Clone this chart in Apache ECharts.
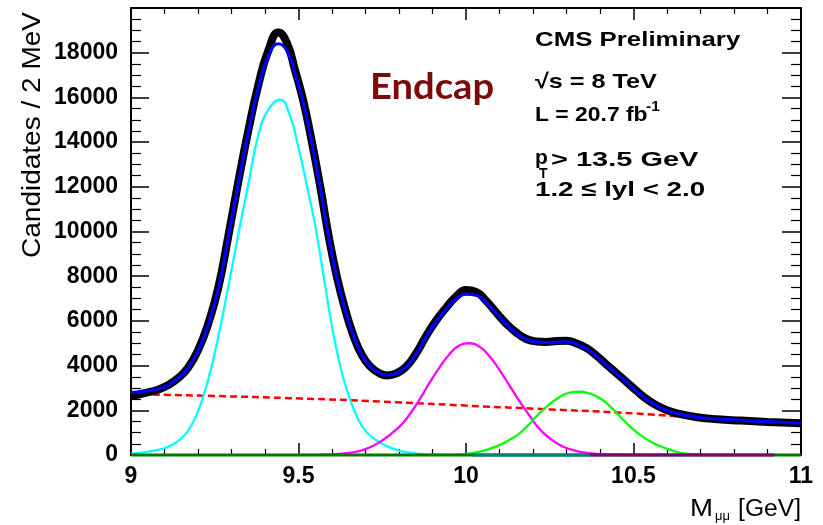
<!DOCTYPE html>
<html>
<head>
<meta charset="utf-8">
<script src="https://cdn.jsdelivr.net/npm/echarts@6/dist/echarts.min.js"></script>
<style>
html,body{margin:0;padding:0;background:#fff;}
#chart{width:823px;height:525px;}
</style>
</head>
<body>
<div id="chart"></div>
<script>
// ---- values (mass in GeV, candidates / 2 MeV) ----
const dataPoints = [[9.00,2620],[9.04,2770],[9.08,2920],[9.11,3120],[9.14,3430],[9.17,3900],[9.20,4680],[9.23,5850],[9.26,7450],[9.29,9750],[9.32,12200],[9.35,14500],[9.38,16550],[9.41,18100],[9.44,18900],[9.465,18450],[9.49,17200],[9.515,15800],[9.54,14000],[9.565,12000],[9.59,9800],[9.615,7950],[9.64,6480],[9.665,5300],[9.69,4450],[9.715,3950],[9.74,3670],[9.765,3560],[9.79,3640],[9.82,3930],[9.85,4520],[9.88,5300],[9.91,6000],[9.94,6580],[9.97,7080],[10.0,7380],[10.03,7300],[10.06,6900],[10.09,6380],[10.12,5880],[10.15,5480],[10.18,5190],[10.21,5080],[10.24,5060],[10.27,5100],[10.30,5110],[10.33,4990],[10.36,4780],[10.39,4440],[10.42,4040],[10.45,3650],[10.48,3260],[10.51,2860],[10.54,2490],[10.57,2210],[10.60,2000],[10.64,1830],[10.69,1690],[10.75,1600],[10.82,1540],[10.9,1480],[11.0,1420]];
const totalFit = [[9.00,2790],[9.04,2850],[9.08,2950],[9.11,3120],[9.14,3420],[9.17,3880],[9.20,4650],[9.23,5800],[9.26,7400],[9.29,9700],[9.32,12100],[9.35,14400],[9.38,16400],[9.41,17850],[9.44,18400],[9.465,18100],[9.49,17050],[9.515,15700],[9.54,13950],[9.565,11950],[9.59,9750],[9.615,7900],[9.64,6450],[9.665,5300],[9.69,4450],[9.715,3950],[9.74,3680],[9.765,3580],[9.79,3650],[9.82,3920],[9.85,4500],[9.88,5250],[9.91,5950],[9.94,6500],[9.97,6980],[10.0,7200],[10.03,7150],[10.06,6830],[10.09,6350],[10.12,5850],[10.15,5450],[10.18,5170],[10.21,5060],[10.24,5030],[10.27,5050],[10.30,5060],[10.33,4960],[10.36,4750],[10.39,4420],[10.42,4020],[10.45,3630],[10.48,3250],[10.51,2850],[10.54,2480],[10.57,2200],[10.60,1990],[10.64,1820],[10.69,1690],[10.75,1610],[10.82,1550],[10.9,1490],[11.0,1420]];
const ups1S = [[9.0,60],[9.04,120],[9.08,224],[9.11,370],[9.14,620],[9.17,1080],[9.20,1950],[9.23,3350],[9.26,5250],[9.29,7500],[9.32,9850],[9.35,12100],[9.38,14300],[9.41,15450],[9.445,15900],[9.475,15150],[9.50,13750],[9.525,12050],[9.55,10250],[9.575,8000],[9.60,5750],[9.625,3950],[9.65,2650],[9.675,1700],[9.70,1080],[9.73,680],[9.76,420],[9.80,200],[9.85,70],[9.9,15],[10.0,0]];
const ups2S = [[9.5,0],[9.6,30],[9.65,90],[9.70,260],[9.75,650],[9.80,1250],[9.83,1780],[9.86,2450],[9.89,3200],[9.92,3900],[9.95,4500],[9.98,4900],[10.01,5000],[10.04,4850],[10.07,4420],[10.10,3800],[10.13,3100],[10.16,2400],[10.19,1750],[10.22,1150],[10.25,750],[10.28,450],[10.31,260],[10.34,140],[10.38,60],[10.45,15],[10.6,0]];
const ups3S = [[9.9,0],[9.97,15],[10.0,45],[10.05,180],[10.10,450],[10.13,680],[10.16,970],[10.19,1400],[10.22,1880],[10.25,2280],[10.28,2600],[10.31,2790],[10.34,2830],[10.37,2740],[10.40,2540],[10.43,2180],[10.46,1720],[10.49,1270],[10.52,900],[10.55,600],[10.58,390],[10.61,230],[10.64,100],[10.68,35],[10.75,5],[10.8,0]];
const background = [[9.0,2720],[9.25,2640],[9.5,2530],[9.75,2390],[10.0,2210],[10.25,2040],[10.5,1860],[10.75,1610],[11.0,1390]];
const zeroGreen = [[9.0,0],[11.0,0]];
const zeroTeal = [[10.02,0],[10.37,0]];
const zeroPurple = [[10.37,0],[10.92,0]];
const xTicks = [9, 9.5, 10, 10.5, 11];
const yTickStep = 2000;

const chart = echarts.init(document.getElementById('chart'), null, {renderer:'canvas'});
const FONT = 'Liberation Sans';
const frameLine = {show:true, onZero:false, lineStyle:{color:'#000', width:2}};
function lineSeries(data, color, width, extra) {
  return Object.assign({
    type:'line', data:data, showSymbol:false, symbol:'none', smooth:0.5,
    lineStyle:{color:color, width:width}, itemStyle:{color:color}, silent:true, animation:false
  }, extra||{});
}
const textBase = {fontFamily:FONT, fontWeight:'bold', fontSize:21, fill:'#000', verticalAlign:'middle', textAlign:'left'};
function t(x, y, text, styleExtra, sx) {
  return {type:'text', x:x, y:y, scaleX: sx||1.2, style:Object.assign({}, textBase, {text:text, x:0, y:0}, styleExtra||{})};
}
chart.setOption({
  animation:false,
  backgroundColor:'#fff',
  grid:{left:131, right:22, top:8, bottom:70, containLabel:false},
  xAxis:[{
    type:'value', min:9, max:11, interval:0.5, position:'bottom',
    axisLine:frameLine,
    axisTick:{show:true, inside:true, length:12, lineStyle:{color:'#000', width:1.5}},
    minorTick:{show:true, splitNumber:5, length:6, lineStyle:{color:'#000', width:1.2}},
    splitLine:{show:false},
    axisLabel:{show:true, margin:10, fontFamily:FONT, fontWeight:'bold', fontSize:23, color:'#000',
      formatter:function(v){ return xTicks.indexOf(v) >= 0 ? String(v) : ''; }}
  },{
    type:'value', min:9, max:11, interval:0.5, position:'top',
    axisLine:frameLine,
    axisTick:{show:true, inside:true, length:12, lineStyle:{color:'#000', width:1.5}},
    minorTick:{show:true, splitNumber:5, length:6, lineStyle:{color:'#000', width:1.2}},
    splitLine:{show:false}, axisLabel:{show:false}
  }],
  yAxis:[{
    type:'value', min:0, max:20000, interval:yTickStep, position:'left',
    axisLine:frameLine,
    axisTick:{show:true, inside:true, length:18, lineStyle:{color:'#000', width:1.5}},
    minorTick:{show:true, splitNumber:4, length:10, lineStyle:{color:'#000', width:1.2}},
    splitLine:{show:false},
    axisLabel:{show:true, margin:13, fontFamily:FONT, fontWeight:'bold', fontSize:23, color:'#000',
      formatter:function(v){ return v >= 20000 ? '' : String(v); }}
  },{
    type:'value', min:0, max:20000, interval:yTickStep, position:'right',
    axisLine:frameLine,
    axisTick:{show:true, inside:true, length:19, lineStyle:{color:'#000', width:1.5}},
    minorTick:{show:true, splitNumber:4, length:10, lineStyle:{color:'#000', width:1.2}},
    splitLine:{show:false}, axisLabel:{show:false}
  }],
  series:[
    lineSeries(background, '#ff0000', 2.5, {lineStyle:{color:'#ff0000', width:2.5, type:[7,4]}}),
    lineSeries(ups1S, '#00ffff', 2.3),
    lineSeries(ups2S, '#ff00ff', 2.3),
    lineSeries(ups3S, '#00ff00', 2.3),
    lineSeries(dataPoints, '#000000', 8),
    lineSeries(totalFit, '#0000ff', 3.2),
    lineSeries(zeroGreen, '#007a00', 3, {smooth:false, clip:false, z:5}),
    lineSeries(zeroTeal, '#008080', 3, {smooth:false, clip:false, z:5}),
    lineSeries(zeroPurple, '#800080', 3, {smooth:false, clip:false, z:5})
  ],
  graphic:[
    {type:'text', x:33, y:135, rotation:Math.PI/2, scaleX:1.12,
      style:{text:'Candidates / 2 MeV', fontFamily:FONT, fontSize:25, fill:'#000', textAlign:'center', verticalAlign:'middle', x:0, y:0}},
    {type:'text', x:690, y:510, scaleX:1.2, style:{text:'M', fontFamily:FONT, fontSize:23, fill:'#000', textAlign:'left', verticalAlign:'middle', x:0, y:0}},
    {type:'text', x:715, y:516, scaleX:1.0, style:{text:'μμ', fontFamily:FONT, fontSize:13, fill:'#000', textAlign:'left', verticalAlign:'middle', x:0, y:0}},
    {type:'text', x:801, y:510, scaleX:1.07, style:{text:'[GeV]', fontFamily:FONT, fontSize:23, fill:'#000', textAlign:'right', verticalAlign:'middle', x:0, y:0}},
    {type:'text', x:370, y:87, scaleX:1.06, style:{text:'Endcap', fontFamily:'Lato', fontWeight:'bold', fontSize:36, fill:'#7c0a0a', textAlign:'left', verticalAlign:'middle', x:0, y:0}},
    t(535, 40, 'CMS Preliminary', null, 1.23),
    t(535, 82, '√s = 8 TeV', null, 1.2),
    t(535, 115, 'L = 20.7 fb', null, 1.09),
    t(646, 107, '-1', {fontSize:14}, 1.1),
    t(535, 158, 'p', null, 1.0),
    t(539, 174, 'T', {fontSize:14}, 1.0),
    t(551, 160, '> 13.5 GeV', null, 1.38),
    t(535, 190, '1.2 ≤ lyl < 2.0', null, 1.32)
  ]
});
</script>
</body>
</html>
